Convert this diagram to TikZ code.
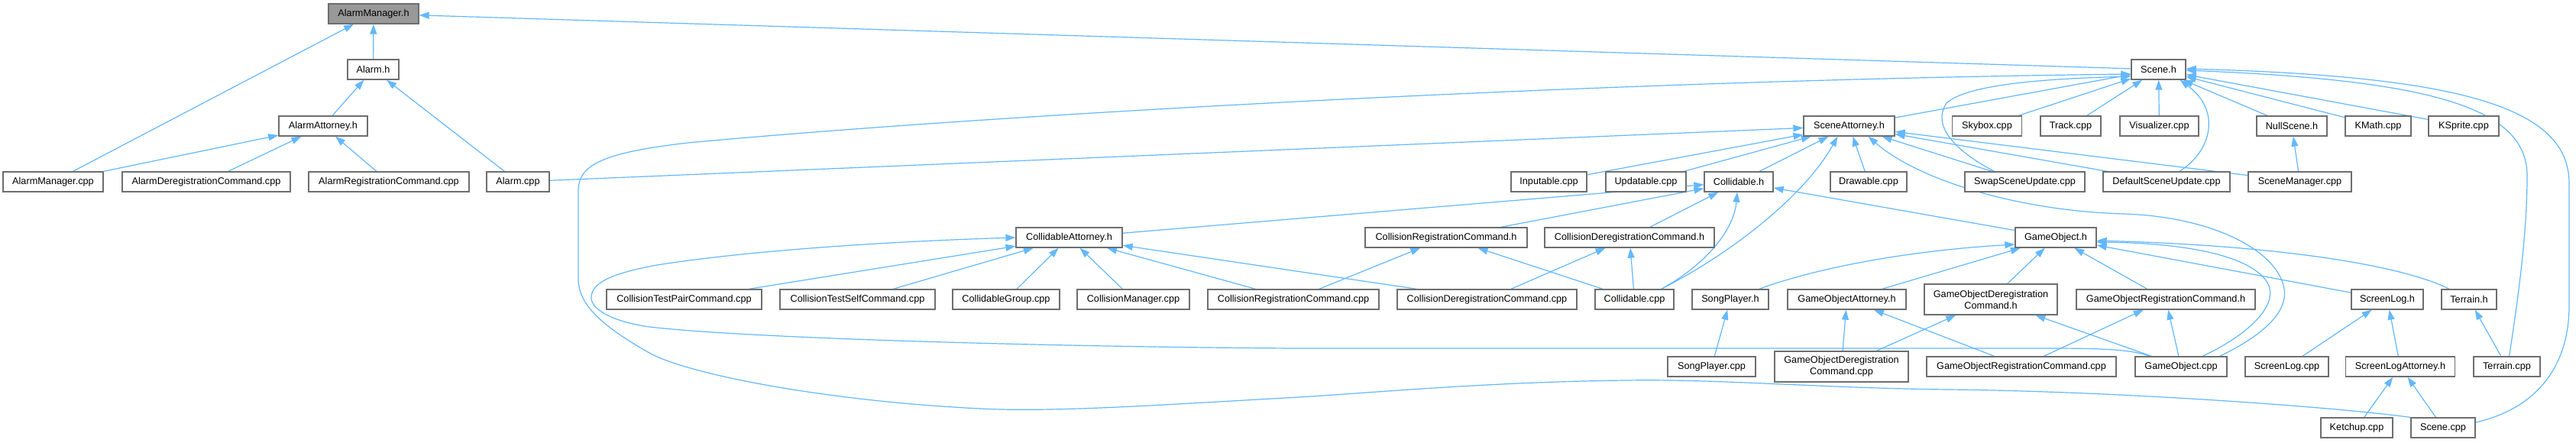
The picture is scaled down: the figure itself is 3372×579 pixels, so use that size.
\documentclass[tikz,border=0pt]{standalone}
\usepackage{fontspec}
\setmainfont{Liberation Sans}
\usetikzlibrary{arrows.meta,calc,backgrounds}
\definecolor{edgeblue}{RGB}{99,184,255}
\definecolor{boxborder}{RGB}{110,110,110}
\definecolor{rootfill}{RGB}{153,153,153}
\tikzset{
  box/.style={draw=boxborder, line width=1.3pt, fill=white, minimum height=26pt,
    inner sep=0pt, font=\fontsize{12.7}{15}\selectfont, text=black, align=center},
  box2/.style={box, minimum height=40pt},
  rootbox/.style={box, fill=rootfill},
  edge/.style={draw=edgeblue, line width=1.2pt, -{Triangle[length=13pt,width=9pt]}}
}
\begin{document}
\begin{tikzpicture}[x=1pt,y=-1pt]
\useasboundingbox (0,0) rectangle (3372,579);
% row 0
\node[rootbox, minimum width=118pt] (amh) at (489,18) {AlarmManager.h};
% row 1
\node[box, minimum width=67pt] (alarmh) at (488.5,91) {Alarm.h};
\node[box, minimum width=71pt] (sceneh) at (2825.5,91) {Scene.h};
% row 2
\node[box, minimum width=116pt] (aatt) at (423,165) {AlarmAttorney.h};
\node[box, minimum width=119pt] (satt) at (2420.5,165) {SceneAttorney.h};
\node[box, minimum width=91pt] (skybox) at (2601,165) {Skybox.cpp};
\node[box, minimum width=79pt] (track) at (2710.5,165) {Track.cpp};
\node[box, minimum width=103pt] (visual) at (2826.5,165) {Visualizer.cpp};
\node[box, minimum width=92pt] (nulls) at (3000,165) {NullScene.h};
\node[box, minimum width=86pt] (kmath) at (3113,165) {KMath.cpp};
\node[box, minimum width=92pt] (ksprite) at (3225,165) {KSprite.cpp};
% row 3
\node[box, minimum width=131pt] (amcpp) at (69.5,238) {AlarmManager.cpp};
\node[box, minimum width=220pt] (adrc) at (270,238) {AlarmDeregistrationCommand.cpp};
\node[box, minimum width=210pt] (arc) at (509,238) {AlarmRegistrationCommand.cpp};
\node[box, minimum width=82pt] (alarmcpp) at (678,238) {Alarm.cpp};
\node[box, minimum width=99pt] (inputable) at (2027.5,238) {Inputable.cpp};
\node[box, minimum width=105pt] (updatable) at (2154.5,238) {Updatable.cpp};
\node[box, minimum width=90pt] (collh) at (2276,238) {Collidable.h};
\node[box, minimum width=100pt] (drawable) at (2446,238) {Drawable.cpp};
\node[box, minimum width=157pt] (swap) at (2650.5,238) {SwapSceneUpdate.cpp};
\node[box, minimum width=166pt] (defsu) at (2836,238) {DefaultSceneUpdate.cpp};
\node[box, minimum width=135pt] (scman) at (3010.5,238) {SceneManager.cpp};
% row 4
\node[box, minimum width=139pt] (catt) at (1399.5,311) {CollidableAttorney.h};
\node[box, minimum width=212pt] (crch) at (1893,311) {CollisionRegistrationCommand.h};
\node[box, minimum width=222pt] (cdrch) at (2133,311) {CollisionDeregistrationCommand.h};
\node[box, minimum width=106pt] (goh) at (2691,311) {GameObject.h};
% row 5
\node[box, minimum width=203pt] (ctp) at (895.5,392) {CollisionTestPairCommand.cpp};
\node[box, minimum width=203pt] (cts) at (1122.5,392) {CollisionTestSelfCommand.cpp};
\node[box, minimum width=140pt] (cgrp) at (1317,392) {CollidableGroup.cpp};
\node[box, minimum width=147pt] (cman) at (1483.5,392) {CollisionManager.cpp};
\node[box, minimum width=224pt] (crcc) at (1693,392) {CollisionRegistrationCommand.cpp};
\node[box, minimum width=235pt] (cdrcc) at (1946.5,392) {CollisionDeregistrationCommand.cpp};
\node[box, minimum width=103pt] (collcpp) at (2139.5,392) {Collidable.cpp};
\node[box, minimum width=100pt] (songh) at (2265,392) {SongPlayer.h};
\node[box, minimum width=155pt] (goatt) at (2417.5,392) {GameObjectAttorney.h};
\node[box2, minimum width=174pt] (godrh) at (2606,392) {GameObjectDeregistration\\Command.h};
\node[box, minimum width=234pt] (gorh) at (2835,392) {GameObjectRegistrationCommand.h};
\node[box, minimum width=94pt] (slh) at (3125,392) {ScreenLog.h};
\node[box, minimum width=72pt] (terh) at (3232,392) {Terrain.h};
% row 6
\node[box, minimum width=115pt] (songcpp) at (2240.5,480) {SongPlayer.cpp};
\node[box2, minimum width=175pt] (godrc) at (2410.5,480) {GameObjectDeregistration\\Command.cpp};
\node[box, minimum width=248pt] (gorc) at (2646,480) {GameObjectRegistrationCommand.cpp};
\node[box, minimum width=120pt] (gocpp) at (2855,480) {GameObject.cpp};
\node[box, minimum width=109pt] (slcpp) at (2993.5,480) {ScreenLog.cpp};
\node[box, minimum width=143pt] (slatt) at (3142,480) {ScreenLogAttorney.h};
\node[box, minimum width=87pt] (tercpp) at (3281.5,480) {Terrain.cpp};
% row 7
\node[box, minimum width=94pt] (ketchup) at (3085,560) {Ketchup.cpp};
\node[box, minimum width=84pt] (scenecpp) at (3198,560) {Scene.cpp};

\begin{scope}[on background layer]
\fill[white] (0,0) rectangle (3372,579);
% straight edges
\draw[edge] (amcpp) -- (amh);
\draw[edge] (alarmh) -- (amh);
\draw[edge] (sceneh) -- (amh);
\draw[edge] (aatt) -- (alarmh);
\draw[edge] (alarmcpp) -- (alarmh);
\draw[edge] (amcpp) -- (aatt);
\draw[edge] (adrc) -- (aatt);
\draw[edge] (arc) -- (aatt);
\draw[edge] (alarmcpp) -- (satt);
\draw[edge] (satt) -- (sceneh);
\draw[edge] (skybox) -- (sceneh);
\draw[edge] (track) -- (sceneh);
\draw[edge] (visual) -- (sceneh);
\draw[edge] (nulls) -- (sceneh);
\draw[edge] (kmath) -- (sceneh);
\draw[edge] (ksprite) -- (sceneh);
\draw[edge] (scman) -- (nulls);
\draw[edge] (scman) -- (satt);
\draw[edge] (defsu) -- (satt);
\draw[edge] (swap) -- (satt);
\draw[edge] (inputable) -- (satt);
\draw[edge] (updatable) -- (satt);
\draw[edge] (collh) -- (satt);
\draw[edge] (drawable) -- (satt);
\draw[edge] (catt) -- (collh);
\draw[edge] (crch) -- (collh);
\draw[edge] (cdrch) -- (collh);
\draw[edge] (goh) -- (collh);
\draw[edge] (ctp) -- (catt);
\draw[edge] (cts) -- (catt);
\draw[edge] (cgrp) -- (catt);
\draw[edge] (cman) -- (catt);
\draw[edge] (crcc) -- (catt);
\draw[edge] (cdrcc) -- (catt);
\draw[edge] (crcc) -- (crch);
\draw[edge] (collcpp) -- (crch);
\draw[edge] (cdrcc) -- (cdrch);
\draw[edge] (collcpp) -- (cdrch);
\draw[edge] (goatt) -- (goh);
\draw[edge] (godrh) -- (goh);
\draw[edge] (gorh) -- (goh);
\draw[edge] (slh) -- (goh);
\draw[edge] (songcpp) -- (songh);
\draw[edge] (godrc) -- (goatt);
\draw[edge] (gorc) -- (goatt);
\draw[edge] (godrc) -- (godrh);
\draw[edge] (gocpp) -- (godrh);
\draw[edge] (gorc) -- (gorh);
\draw[edge] (gocpp) -- (gorh);
\draw[edge] (slcpp) -- (slh);
\draw[edge] (slatt) -- (slh);
\draw[edge] (tercpp) -- (terh);
\draw[edge] (ketchup) -- (slatt);
\draw[edge] (scenecpp) -- (slatt);
% curved edges
\draw[edge] (scenecpp.north west) .. controls (3030,530) and (2750,512) .. (2550,510)
  .. controls (2380,508) and (2250,496) .. (2128,498)
  .. controls (1950,500) and (1800,514) .. (1700,520)
  .. controls (1520,530) and (1380,540) .. (1283,535)
  .. controls (1080,525) and (900,490) .. (850,462)
  .. controls (790,428) and (757,400) .. (757,365) -- (757,250)
  .. controls (757,215) and (790,200) .. (900,187)
  .. controls (1300,150) and (2100,105) .. ($(sceneh.west)+(0,6)$);
\draw[edge] ($(gocpp.north west)+(20,0)$) .. controls (2790,458) and (2760,456) .. (2680,456)
  -- (1700,456) .. controls (1450,455) and (1000,445) .. (850,428)
  .. controls (795,420) and (772,402) .. (774,388)
  .. controls (776,370) and (800,358) .. (860,347)
  .. controls (1000,325) and (1200,315) .. (catt.west);
\draw[edge] ($(swap.north)+(-40,0)$) .. controls (2560,198) and (2528,165) .. (2548,135)
  .. controls (2575,110) and (2680,103) .. ($(sceneh.west)+(0,9)$);
\draw[edge] ($(defsu.north)+(17,0)$) .. controls (2895,198) and (2908,145) .. ($(sceneh.south)+(28,0)$);
\draw[edge] ($(tercpp.north)+(3,0)$) .. controls (3298,380) and (3308,300) .. (3308,230)
  .. controls (3308,140) and (3180,105) .. ($(sceneh.east)+(0,1)$);
\draw[edge] ($(scenecpp.east)+(0,-7)$) .. controls (3320,535) and (3363,480) .. (3363,400) -- (3363,240)
  .. controls (3363,140) and (3220,100) .. ($(sceneh.east)+(0,-1)$);
\draw[edge] ($(gocpp.north east)+(-10,0)$) .. controls (2960,440) and (2995,410) .. (2990,378)
  .. controls (2982,330) and (2900,284) .. (2780,280)
  .. controls (2640,276) and (2510,235) .. ($(satt.south)+(25,0)$);
\draw[edge] ($(collcpp.north east)+(-17,0)$) .. controls (2260,335) and (2360,260) .. ($(satt.south)+(-15,0)$);
\draw[edge] ($(collcpp.north east)+(-17,0)$) .. controls (2235,345) and (2270,300) .. ($(collh.south)+(-2,0)$);
\draw[edge] ($(songh.north east)+(-13,0)$) .. controls (2380,350) and (2500,328) .. ($(goh.west)+(0,9)$);
\draw[edge] ($(gocpp.north)+(28,0)$) .. controls (2940,440) and (2985,400) .. (2968,370)
  .. controls (2945,332) and (2850,318) .. ($(goh.east)+(0,6)$);
\draw[edge] ($(terh.north)+(-26,0)$) .. controls (3150,350) and (3000,322) .. ($(goh.east)+(0,4)$);
\end{scope}
\end{tikzpicture}
\end{document}
